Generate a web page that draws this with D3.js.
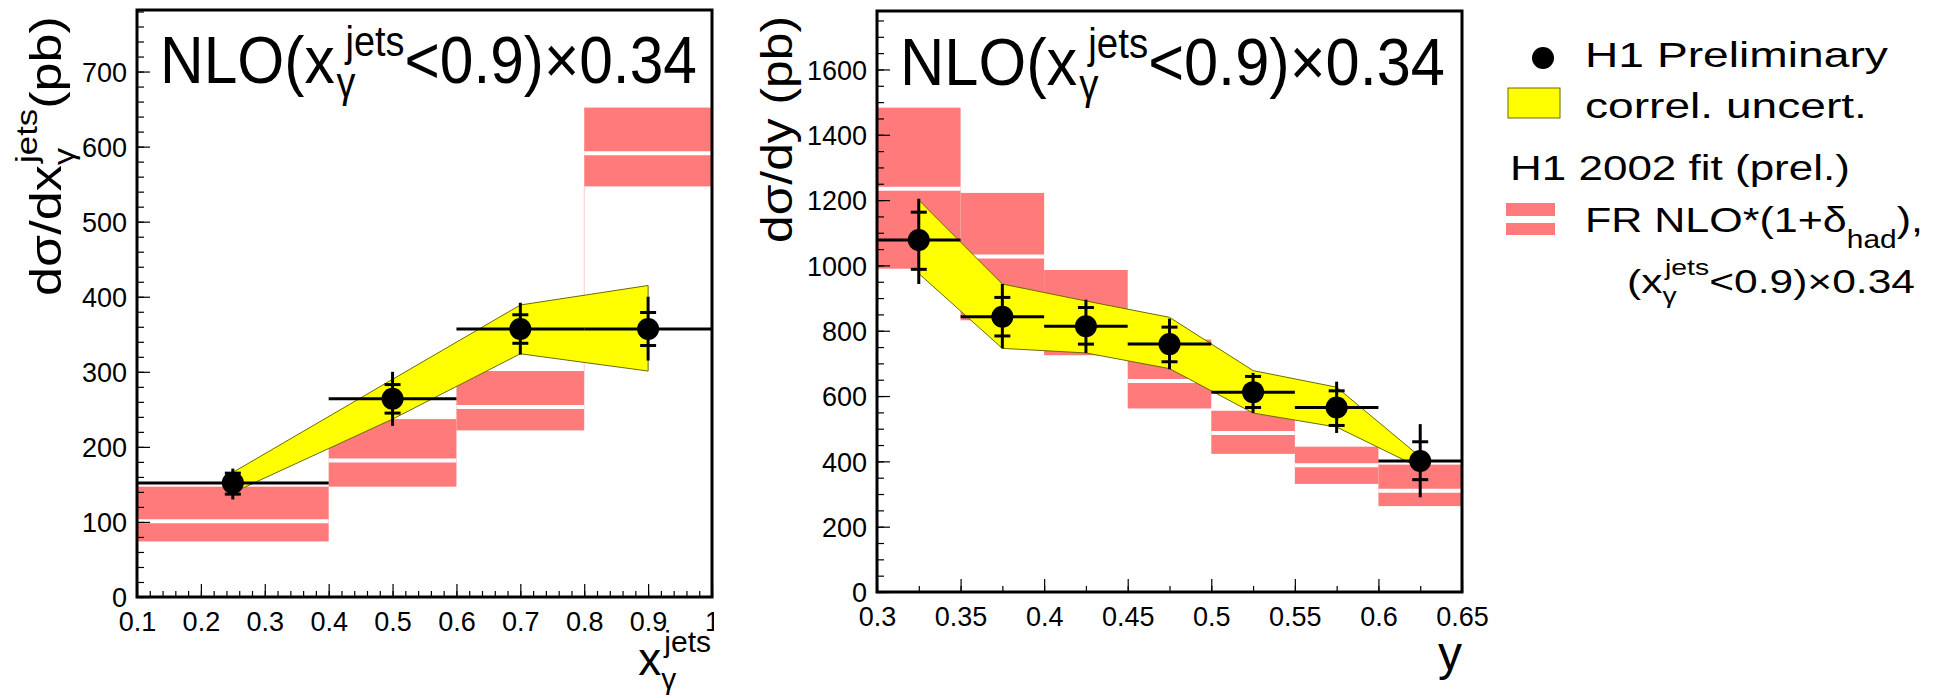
<!DOCTYPE html>
<html><head><meta charset="utf-8">
<script src="https://cdn.jsdelivr.net/npm/d3@7"></script>
<style>
body{margin:0;background:#fff}
svg{display:block}
text{font-family:"Liberation Sans",Arial,Helvetica,sans-serif;fill:#000}
</style>
</head><body>
<svg id="chart" width="1939" height="698"></svg>
<script>
// ---- dsigma/dx_gamma^jets ----
const xgBinLo = [0.1, 0.4, 0.6, 0.8];
const xgBinHi = [0.4, 0.6, 0.8, 1.0];
const xgCentre = [0.25, 0.5, 0.7, 0.9];
const xgValue = [152, 264, 357, 357];
const xgTotUp = [171, 300, 392, 400];
const xgTotDn = [130, 228, 323, 315];
const xgStatUp = [165, 283, 376, 379];
const xgStatDn = [137, 245, 338, 335];
const xgCorrUp = [166, 290, 389, 415];
const xgCorrDn = [139, 237, 324, 301];
const xgNlo = [101, 182, 253, 591];
const xgNloUp = [147, 237, 301, 652];
const xgNloDn = [74, 147, 222, 547];
const xgTicksX = [0.1, 0.2, 0.3, 0.4, 0.5, 0.6, 0.7, 0.8, 0.9, 1.0];
const xgTickLabelsX = ["0.1", "0.2", "0.3", "0.4", "0.5", "0.6", "0.7", "0.8", "0.9", "1"];
const xgTicksY = [0, 100, 200, 300, 400, 500, 600, 700];
const xgTickLabelsY = ["0", "100", "200", "300", "400", "500", "600", "700"];

// ---- dsigma/dy ----
const yBinLo = [0.30, 0.35, 0.40, 0.45, 0.50, 0.55, 0.60];
const yBinHi = [0.35, 0.40, 0.45, 0.50, 0.55, 0.60, 0.65];
const yCentre = [0.325, 0.375, 0.425, 0.475, 0.525, 0.575, 0.625];
const yValue = [1078, 843, 814, 759, 612, 565, 401];
const yTotUp = [1204, 943, 895, 837, 671, 644, 514];
const yTotDn = [943, 746, 732, 682, 548, 487, 290];
const yStatUp = [1163, 902, 871, 811, 660, 616, 460];
const yStatDn = [988, 784, 759, 705, 565, 510, 344];
const yCorrUp = [1200, 943, 891, 841, 678, 627, 414];
const yCorrDn = [975, 746, 732, 684, 548, 505, 380];
const yNlo = [1235, 1027, 855, 646, 487, 388, 310];
const yNloUp = [1483, 1222, 986, 773, 555, 445, 390];
const yNloDn = [990, 832, 725, 562, 423, 331, 263];
const yTicksX = [0.30, 0.35, 0.40, 0.45, 0.50, 0.55, 0.60, 0.65];
const yTickLabelsX = ["0.3", "0.35", "0.4", "0.45", "0.5", "0.55", "0.6", "0.65"];
const yTicksY = [0, 200, 400, 600, 800, 1000, 1200, 1400, 1600];
const yTickLabelsY = ["0", "200", "400", "600", "800", "1000", "1200", "1400", "1600"];

const PINK = "#ff7a7a", YELLOW = "#ffff00", BAND_EDGE = "#6b6b00";
const svg = d3.select("#chart");

// Rich text: pieces laid left to right; a piece with stack:true starts where the
// previous piece started (sub/superscript pair). Fitted to a width, optional rotation.
function richText(parent, x, y, segs, opt = {}) {
  const g = parent.append("g");
  const inner = g.append("g");
  let cx = 0, lastStart = 0;
  segs.forEach(s => {
    const start = (s.stack ? lastStart : cx) + (s.dx || 0);
    const t = inner.append("text").attr("x", start).attr("y", s.dy || 0)
      .attr("font-size", s.fs).text(s.t);
    const w = t.node().getComputedTextLength();
    lastStart = start;
    cx = Math.max(cx, start + w);
  });
  const sx = opt.width ? opt.width / cx : 1;
  const shift = opt.anchor === "end" ? -cx : 0;
  g.attr("transform", `translate(${x},${y}) rotate(${opt.rotate || 0}) scale(${sx},1) translate(${shift},0)`);
  return g;
}

function panel(cfg) {
  const g = svg.append("g");
  if (cfg.clip) {
    svg.append("clipPath").attr("id", cfg.clip.id).append("rect")
      .attr("x", 0).attr("y", 0).attr("width", cfg.clip.w).attr("height", 698);
    g.attr("clip-path", `url(#${cfg.clip.id})`);
  }
  const x = d3.scaleLinear().domain(cfg.xDomain).range([cfg.left, cfg.right]);
  const y = d3.scaleLinear().domain(cfg.yDomain).range([cfg.bottom, cfg.top]);

  // NLO prediction boxes with central value line
  const nlo = g.append("g");
  cfg.binLo.forEach((lo, i) => {
    nlo.append("rect").attr("x", x(lo)).attr("width", x(cfg.binHi[i]) - x(lo))
      .attr("y", y(cfg.nloUp[i])).attr("height", y(cfg.nloDn[i]) - y(cfg.nloUp[i]))
      .attr("fill", PINK);
    nlo.append("line").attr("x1", x(lo)).attr("x2", x(cfg.binHi[i]))
      .attr("y1", y(cfg.nlo[i])).attr("y2", y(cfg.nlo[i]))
      .attr("stroke", "#fff").attr("stroke-width", 4);
  });
  if (cfg.nloStep) {
    cfg.nloStep.forEach(k => {
      nlo.append("line").attr("x1", x(cfg.binLo[k])).attr("x2", x(cfg.binLo[k]))
        .attr("y1", y(cfg.nloUp[k - 1])).attr("y2", y(cfg.nloDn[k]))
        .attr("stroke", "#ffc8c8").attr("stroke-width", 1);
    });
  }

  // correlated uncertainty band
  const band = cfg.centre.map((c, i) => ({ x: c, lo: cfg.corrDn[i], hi: cfg.corrUp[i] }));
  g.append("path").datum(band)
    .attr("d", d3.area().x(d => x(d.x)).y0(d => y(d.lo)).y1(d => y(d.hi)))
    .attr("fill", YELLOW).attr("stroke", BAND_EDGE).attr("stroke-width", 1);

  // data points
  const pts = g.append("g").attr("stroke", "#000").attr("stroke-width", 3);
  cfg.centre.forEach((c, i) => {
    pts.append("line").attr("x1", x(cfg.binLo[i])).attr("x2", x(cfg.binHi[i]))
      .attr("y1", y(cfg.value[i])).attr("y2", y(cfg.value[i]));
    pts.append("line").attr("x1", x(c)).attr("x2", x(c))
      .attr("y1", y(cfg.totUp[i])).attr("y2", y(cfg.totDn[i]));
    [cfg.statUp[i], cfg.statDn[i]].forEach(v => {
      pts.append("line").attr("x1", x(c) - 8).attr("x2", x(c) + 8)
        .attr("y1", y(v)).attr("y2", y(v));
    });
    pts.append("circle").attr("cx", x(c)).attr("cy", y(cfg.value[i])).attr("r", 11)
      .attr("fill", "#000").attr("stroke", "none");
  });

  // axes (ticks inside the frame)
  const ax = g.append("g").attr("transform", `translate(0,${cfg.bottom})`);
  ax.call(d3.axisBottom(x).tickValues(cfg.minorX).tickFormat("").tickSizeInner(-6).tickSizeOuter(0));
  const axM = g.append("g").attr("transform", `translate(0,${cfg.bottom})`);
  axM.call(d3.axisBottom(x).tickValues(cfg.ticksX).tickFormat((d, i) => cfg.tickLabelsX[i])
    .tickSizeInner(-13).tickSizeOuter(0).tickPadding(10));
  const ay = g.append("g").attr("transform", `translate(${cfg.left},0)`);
  ay.call(d3.axisLeft(y).tickValues(cfg.minorY).tickFormat("").tickSizeInner(-7).tickSizeOuter(0));
  const ayM = g.append("g").attr("transform", `translate(${cfg.left},0)`);
  ayM.call(d3.axisLeft(y).tickValues(cfg.ticksY).tickFormat((d, i) => cfg.tickLabelsY[i])
    .tickSizeInner(-13).tickSizeOuter(0).tickPadding(10));
  [ax, axM, ay, ayM].forEach(a => {
    a.select(".domain").remove();
    a.selectAll("line").attr("stroke", "#000").attr("stroke-width", 1.2);
    a.selectAll("text").attr("font-size", 27).attr("fill", "#000")
      .style("font-family", '"Liberation Sans",Arial,sans-serif');
  });
  axM.selectAll("text").attr("dy", null).attr("y", 34);
  ayM.selectAll("text").attr("dy", "0.36em");

  // frame
  g.append("rect").attr("x", cfg.left).attr("y", cfg.top)
    .attr("width", cfg.right - cfg.left).attr("height", cfg.bottom - cfg.top)
    .attr("fill", "none").attr("stroke", "#000").attr("stroke-width", 3);
  return g;
}

function range(a, b, s) { const out = []; for (let v = a; v <= b + 1e-9; v += s) out.push(+v.toFixed(4)); return out; }

const left = panel({
  left: 137, right: 712, top: 10, bottom: 597,
  xDomain: [0.1, 1.0], yDomain: [0, 782],
  binLo: xgBinLo, binHi: xgBinHi, centre: xgCentre, value: xgValue,
  totUp: xgTotUp, totDn: xgTotDn, statUp: xgStatUp, statDn: xgStatDn,
  corrUp: xgCorrUp, corrDn: xgCorrDn, nlo: xgNlo, nloUp: xgNloUp, nloDn: xgNloDn,
  nloStep: [3],
  ticksX: xgTicksX, tickLabelsX: xgTickLabelsX, ticksY: xgTicksY, tickLabelsY: xgTickLabelsY,
  minorX: range(0.1, 1.0, 0.02), minorY: range(0, 780, 20),
  clip: { id: "leftClip", w: 714 }
});
const right = panel({
  left: 877, right: 1462, top: 11, bottom: 592,
  xDomain: [0.3, 0.65], yDomain: [0, 1779],
  binLo: yBinLo, binHi: yBinHi, centre: yCentre, value: yValue,
  totUp: yTotUp, totDn: yTotDn, statUp: yStatUp, statDn: yStatDn,
  corrUp: yCorrUp, corrDn: yCorrDn, nlo: yNlo, nloUp: yNloUp, nloDn: yNloDn,
  ticksX: yTicksX, tickLabelsX: yTickLabelsX, ticksY: yTicksY, tickLabelsY: yTickLabelsY,
  minorX: range(0.3, 0.65, 0.025), minorY: range(0, 1750, 50)
});

// panel titles
const titleSegs = [
  { t: "NLO(x", fs: 67 },
  { t: "γ", fs: 42, dy: 14, dx: 2 },
  { t: "jets", fs: 42, dy: -27, stack: true, dx: 10 },
  { t: "<0.9)×0.34", fs: 67 }
];
richText(left, 160, 83, titleSegs, { width: 537 });
richText(right, 900, 85, titleSegs, { width: 545 });

// axis titles
richText(left, 711, 675, [
  { t: "x", fs: 46 },
  { t: "γ", fs: 30, dy: 14 },
  { t: "jets", fs: 30, dy: -23, stack: true, dx: 3 }
], { anchor: "end" });
richText(right, 1462, 670, [{ t: "y", fs: 48 }], { anchor: "end" });
richText(left, 61, 16, [
  { t: "dσ/dx", fs: 45 },
  { t: "γ", fs: 30, dy: 13 },
  { t: "jets", fs: 30, dy: -24, stack: true, dx: 2 },
  { t: " (pb)", fs: 45 }
], { rotate: -90, anchor: "end", width: 280 });
richText(right, 792, 16, [{ t: "dσ/dy (pb)", fs: 45 }], { rotate: -90, anchor: "end", width: 227 });

// legend
const lg = svg.append("g");
lg.append("circle").attr("cx", 1543).attr("cy", 58).attr("r", 11).attr("fill", "#000");
richText(lg, 1585, 67, [{ t: "H1 Preliminary", fs: 36 }], { width: 303 });
lg.append("rect").attr("x", 1508).attr("y", 88).attr("width", 52).attr("height", 30)
  .attr("fill", YELLOW).attr("stroke", BAND_EDGE).attr("stroke-width", 1);
richText(lg, 1585, 118, [{ t: "correl. uncert.", fs: 36 }], { width: 282 });
richText(lg, 1510, 180, [{ t: "H1 2002 fit (prel.)", fs: 36 }], { width: 340 });
lg.append("rect").attr("x", 1506).attr("y", 203).attr("width", 49).attr("height", 13).attr("fill", PINK);
lg.append("rect").attr("x", 1506).attr("y", 223).attr("width", 49).attr("height", 12).attr("fill", PINK);
richText(lg, 1585, 232, [
  { t: "FR NLO*(1+δ", fs: 36 },
  { t: "had", fs: 25, dy: 16 },
  { t: "),", fs: 36 }
], { width: 338 });
richText(lg, 1627, 293, [
  { t: "(x", fs: 33 },
  { t: "γ", fs: 22, dy: 10 },
  { t: "jets", fs: 22, dy: -18, stack: true, dx: 2 },
  { t: "<0.9)×0.34", fs: 33 }
], { width: 288 });
</script>
</body></html>
